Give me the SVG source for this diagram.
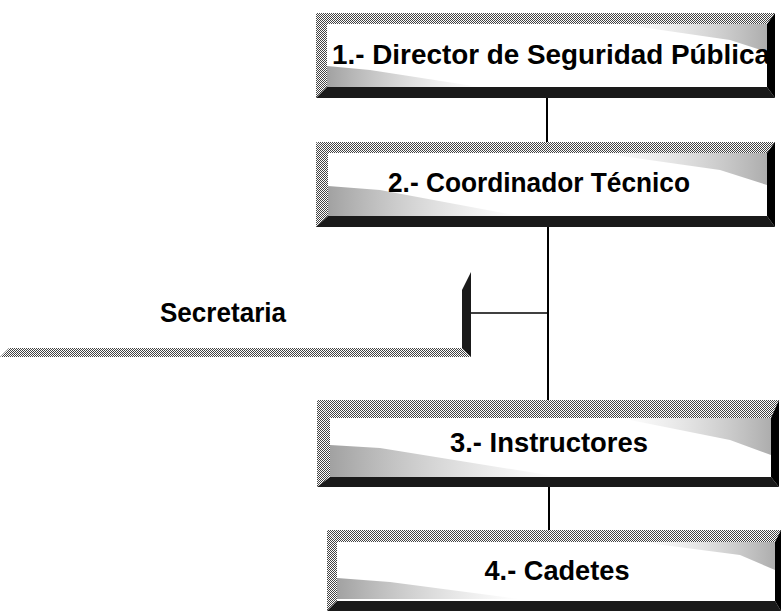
<svg xmlns="http://www.w3.org/2000/svg" width="781" height="611" viewBox="0 0 781 611">
<style>
.bg{fill:#ffffff}
.face{fill:#ffffff}
.lt{fill:url(#dither)}
.lt2{fill:#8f8f8f}
.dk{fill:#1a1a1a}
.dk2{fill:#000000}
.wedge{fill:url(#fade);opacity:0.8}
.wedge2{fill:url(#fade2);opacity:0.7}
.lbl{font-family:"Liberation Sans",Arial,sans-serif;font-weight:bold;font-size:27px;fill:#000;text-anchor:middle}
.conn line{stroke:#000;stroke-width:2}
</style>
<defs>
<pattern id="dither" width="2" height="2" patternUnits="userSpaceOnUse">
<rect width="2" height="2" fill="#ffffff"/>
<rect width="1" height="1" fill="#444"/>
<rect x="1" y="1" width="1" height="1" fill="#444"/>
</pattern>
<linearGradient id="fade" x1="0" y1="0" x2="1" y2="0">
<stop offset="0" stop-color="#8a8a8a"/>
<stop offset="1" stop-color="#bcbcbc" stop-opacity="0"/>
</linearGradient>
<linearGradient id="fade2" x1="1" y1="0" x2="0" y2="0">
<stop offset="0" stop-color="#8a8a8a"/>
<stop offset="1" stop-color="#bcbcbc" stop-opacity="0"/>
</linearGradient>
</defs>
<rect class="bg" width="781" height="611"/>

<g id="connectors" class="conn">
<line x1="547" y1="98" x2="547" y2="142"/>
<line x1="548" y1="227" x2="548" y2="400"/>
<line x1="470" y1="313" x2="548" y2="313" style="stroke-width:1.5"/>
<line x1="549" y1="487" x2="549" y2="530"/>
</g>

<g id="n1">
<rect class="face" x="316" y="13" width="459" height="85"/>
<polygon class="wedge" points="327,87 327,66 370,70 480,87"/>
<polygon class="wedge2" points="767,24 767,52 730,40 620,24"/>
<polygon class="lt" points="316,13 775,13 767,24 327,24"/>
<polygon class="lt" points="316,13 327,24 327,87 316,98"/>
<polygon class="dk" points="316,98 327,87 767,87 775,98"/>
<polygon class="dk2" points="775,13 775,98 767,87 767,24"/>
<text class="lbl" x="551" y="64" textLength="438" lengthAdjust="spacingAndGlyphs">1.- Director de Seguridad Pública</text>
</g>

<g id="n2">
<rect class="face" x="316" y="142" width="459" height="85"/>
<polygon class="wedge" points="328,216 328,186 380,190 520,216"/>
<polygon class="wedge2" points="767,153 767,185 720,170 600,153"/>
<polygon class="lt" points="316,142 775,142 767,153 328,153"/>
<polygon class="lt" points="316,142 328,153 328,216 316,227"/>
<polygon class="dk" points="316,227 328,216 767,216 775,227"/>
<polygon class="dk2" points="775,142 775,227 767,216 767,153"/>
<text class="lbl" x="539" y="192" textLength="302" lengthAdjust="spacingAndGlyphs">2.- Coordinador Técnico</text>
</g>

<g id="n-secretaria">
<polygon class="lt" points="0,357 9,348 462,348 471,357"/>
<polygon class="dk" points="462,290 471,272 471,357 462,348"/>
<text class="lbl" x="223" y="322" textLength="126" lengthAdjust="spacingAndGlyphs">Secretaria</text>
</g>

<g id="n3">
<rect class="face" x="317" y="400" width="462" height="87"/>
<polygon class="wedge" points="330,477 330,445 380,448 560,477"/>
<polygon class="wedge2" points="771,418 771,455 730,440 620,418"/>
<polygon class="lt" points="317,400 779,400 771,418 330,418"/>
<polygon class="lt" points="317,400 330,418 330,477 317,487"/>
<polygon class="dk" points="317,487 330,477 771,477 779,487"/>
<polygon class="dk2" points="779,400 779,487 771,477 771,418"/>
<text class="lbl" x="549" y="452" textLength="198" lengthAdjust="spacingAndGlyphs">3.- Instructores</text>
</g>

<g id="n4">
<rect class="face" x="327" y="530" width="454" height="81"/>
<polygon class="wedge" points="337,599 337,578 390,582 520,599"/>
<polygon class="wedge2" points="775,542 775,570 740,555 640,542"/>
<polygon class="lt" points="327,530 781,530 775,542 337,542"/>
<polygon class="lt" points="327,530 337,542 337,601 327,611"/>
<polygon class="dk" points="327,611 337,601 775,601 781,611"/>
<polygon class="dk2" points="781,530 781,611 775,601 775,542"/>
<text class="lbl" x="557" y="580" textLength="145" lengthAdjust="spacingAndGlyphs">4.- Cadetes</text>
</g>
</svg>
